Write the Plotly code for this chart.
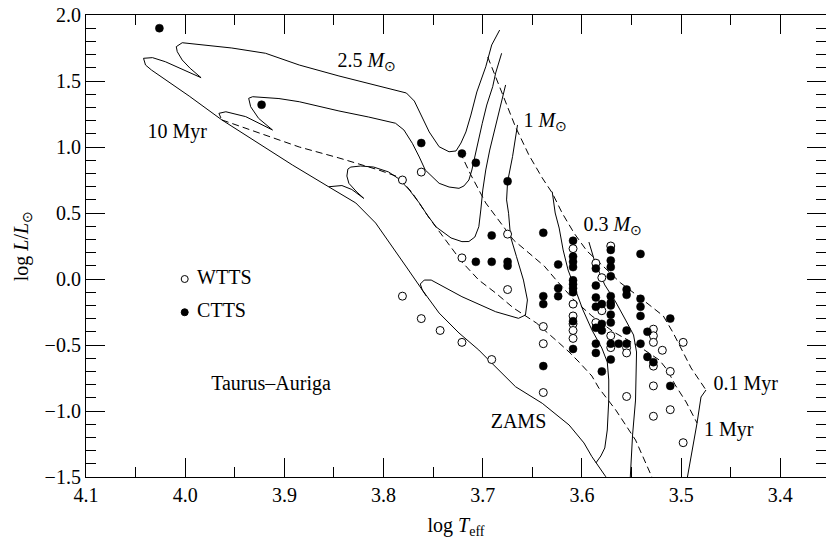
import plotly.graph_objects as go

FONT = "Liberation Serif, Times New Roman, serif"

# ---------------- evolutionary tracks (log Teff, log L/Lsun) ----------------
track_25_x = [3.683, 3.691, 3.697, 3.706, 3.712, 3.717, 3.722, 3.727, 3.734, 3.744, 3.754, 3.762, 3.769, 3.777,
              3.805, 3.845, 3.885, 3.919, 3.953, 3.986, 4.003, 4.009, 4.008, 4.003, 3.995, 3.984, 4.020, 4.033, 4.042]
track_25_y = [1.886, 1.773, 1.608, 1.417, 1.242, 1.114, 1.030, 0.970, 0.964, 1.002, 1.114, 1.242, 1.348, 1.409,
              1.462, 1.538, 1.621, 1.710, 1.750, 1.778, 1.790, 1.760, 1.722, 1.659, 1.596, 1.525, 1.646, 1.677, 1.672]

track_20_x = [3.681, 3.687, 3.690, 3.696, 3.7005, 3.704, 3.707, 3.711, 3.714, 3.719, 3.724, 3.734, 3.744, 3.751,
              3.758, 3.764, 3.771, 3.7795, 3.788, 3.815, 3.845, 3.885, 3.9055, 3.932, 3.936, 3.934, 3.926, 3.912,
              3.939, 3.959, 3.966, 3.964]
track_20_y = [1.710, 1.561, 1.457, 1.318, 1.180, 1.053, 0.952, 0.826, 0.750, 0.705, 0.687, 0.697, 0.725, 0.773,
              0.826, 0.924, 1.028, 1.129, 1.180, 1.227, 1.273, 1.343, 1.367, 1.381, 1.369, 1.305, 1.217, 1.129,
              1.230, 1.267, 1.255, 1.220]

track_15_x = [3.677, 3.682, 3.687, 3.693, 3.697, 3.700, 3.702, 3.704, 3.708, 3.714, 3.721, 3.732, 3.747, 3.756,
              3.764, 3.774, 3.7845, 3.795, 3.810, 3.823, 3.833, 3.836, 3.837, 3.835, 3.827, 3.820, 3.832, 3.842, 3.855]
track_15_y = [1.470, 1.318, 1.154, 0.977, 0.826, 0.674, 0.523, 0.396, 0.318, 0.284, 0.283, 0.311, 0.394, 0.485,
              0.576, 0.674, 0.758, 0.811, 0.848, 0.856, 0.848, 0.833, 0.780, 0.725, 0.659, 0.611, 0.678, 0.708, 0.699]

track_10_x = [3.665, 3.670, 3.675, 3.676, 3.674, 3.672, 3.666, 3.659, 3.655, 3.657, 3.664, 3.687, 3.721, 3.734,
              3.744, 3.752, 3.759, 3.763, 3.761, 3.757]
track_10_y = [1.167, 0.927, 0.737, 0.599, 0.498, 0.320, 0.169, -0.008, -0.159, -0.273, -0.298, -0.248, -0.134,
              -0.083, -0.038, -0.008, -0.008, -0.038, -0.083, -0.129]

track_05_x = [3.630, 3.627, 3.623, 3.619, 3.614, 3.606, 3.599, 3.590, 3.580, 3.5745, 3.573, 3.573, 3.5745, 3.577,
              3.581, 3.586]
track_05_y = [0.661, 0.500, 0.386, 0.220, 0.068, -0.098, -0.235, -0.386, -0.523, -0.629, -0.765, -0.917, -1.144,
              -1.280, -1.341, -1.394]

track_03_x = [3.593, 3.587, 3.577, 3.566, 3.556, 3.548, 3.545, 3.546, 3.549, 3.551, 3.552]
track_03_y = [0.280, 0.129, -0.045, -0.174, -0.311, -0.424, -0.553, -0.917, -1.182, -1.500, -1.600]

track_01_x = [3.475, 3.480, 3.484, 3.489, 3.494, 3.496]
track_01_y = [-0.841, -0.894, -1.091, -1.295, -1.500, -1.598]

zams_x = [4.042, 4.040, 4.034, 3.996, 3.963, 3.926, 3.892, 3.855, 3.828, 3.808, 3.793, 3.777, 3.761, 3.744,
          3.724, 3.704, 3.694, 3.667, 3.640, 3.613, 3.598, 3.590, 3.576, 3.571]
zams_y = [1.672, 1.621, 1.583, 1.386, 1.205, 1.030, 0.864, 0.697, 0.576, 0.424, 0.258, 0.091, -0.083, -0.258,
          -0.409, -0.538, -0.614, -0.816, -0.942, -1.106, -1.242, -1.346, -1.498, -1.560]

# ---------------- isochrones ----------------
iso_01_x = [3.695, 3.684, 3.675, 3.667, 3.6535, 3.640, 3.630, 3.620, 3.608, 3.595, 3.581, 3.561, 3.541, 3.518,
            3.508, 3.498, 3.490, 3.475]
iso_01_y = [1.682, 1.470, 1.295, 1.152, 0.939, 0.765, 0.652, 0.500, 0.348, 0.212, 0.114, -0.030, -0.144, -0.280,
            -0.409, -0.553, -0.674, -0.841]

iso_1_x = [3.723, 3.712, 3.697, 3.684, 3.669, 3.6535, 3.638, 3.626, 3.608, 3.590, 3.568, 3.543, 3.522, 3.514,
           3.506, 3.495, 3.484]
iso_1_y = [0.962, 0.788, 0.576, 0.447, 0.295, 0.197, 0.098, -0.008, -0.159, -0.280, -0.402, -0.508, -0.614,
           -0.689, -0.803, -0.932, -1.091]

iso_10_x = [3.963, 3.926, 3.885, 3.845, 3.805, 3.785, 3.771, 3.754, 3.737, 3.721, 3.704, 3.687, 3.669, 3.646,
            3.623, 3.613, 3.603, 3.590, 3.583, 3.566, 3.546, 3.5295, 3.522]
iso_10_y = [1.205, 1.106, 1.000, 0.917, 0.826, 0.773, 0.652, 0.462, 0.295, 0.129, -0.008, -0.106, -0.220, -0.333,
            -0.485, -0.553, -0.629, -0.735, -0.826, -0.992, -1.220, -1.500, -1.600]

# ---------------- stars ----------------
ctts_x = [4.026, 3.923, 3.762, 3.721, 3.707, 3.675, 3.691, 3.639, 3.609, 3.707, 3.691, 3.675, 3.675, 3.624,
          3.609, 3.609, 3.609, 3.624, 3.624, 3.639, 3.639, 3.609, 3.609, 3.609, 3.609, 3.609, 3.609, 3.639,
          3.586, 3.586, 3.586, 3.586, 3.580, 3.580, 3.586, 3.586, 3.586, 3.580, 3.571, 3.571, 3.571, 3.571,
          3.571, 3.571, 3.571, 3.571, 3.571, 3.571, 3.571, 3.580, 3.541, 3.555, 3.555, 3.541, 3.541, 3.541,
          3.541, 3.563, 3.555, 3.555, 3.534, 3.534, 3.528, 3.511, 3.511]
ctts_y = [1.90, 1.32, 1.03, 0.95, 0.88, 0.74, 0.33, 0.35, 0.29, 0.13, 0.13, 0.13, 0.10, 0.11,
          0.17, 0.13, 0.09, -0.07, -0.13, -0.13, -0.19, -0.01, -0.04, -0.07, -0.10, -0.32, -0.53, -0.66,
          0.08, -0.05, -0.14, -0.21, -0.19, -0.34, -0.37, -0.49, -0.56, -0.70, 0.22, 0.14, 0.09, 0.02,
          -0.13, -0.18, -0.20, -0.27, -0.33, -0.49, -0.61, -0.39, 0.19, -0.08, -0.12, -0.15, -0.21, -0.28,
          -0.49, -0.49, -0.49, -0.39, -0.40, -0.59, -0.63, -0.30, -0.81]

wtts_x = [3.762, 3.781, 3.675, 3.721, 3.675, 3.781, 3.762, 3.743, 3.721, 3.691, 3.639, 3.639, 3.639, 3.609,
          3.609, 3.609, 3.609, 3.609, 3.609, 3.586, 3.580, 3.586, 3.580, 3.571, 3.571, 3.571, 3.555, 3.555,
          3.555, 3.528, 3.528, 3.528, 3.519, 3.528, 3.498, 3.511, 3.528, 3.511, 3.528, 3.498]
wtts_y = [0.81, 0.75, 0.34, 0.16, -0.08, -0.13, -0.30, -0.39, -0.48, -0.61, -0.36, -0.49, -0.86, 0.23,
          -0.19, -0.28, -0.34, -0.39, -0.45, 0.12, 0.01, -0.33, -0.24, 0.25, -0.43, -0.52, -0.52, -0.56,
          -0.89, -0.38, -0.43, -0.48, -0.54, -0.66, -0.48, -0.70, -0.81, -0.99, -1.04, -1.24]

# ---------------- labels ----------------
label_text = ["2.5 <i>M</i><sub>⊙</sub>", "1 <i>M</i><sub>⊙</sub>", "0.3 <i>M</i><sub>⊙</sub>",
              "10 Myr", "0.1 Myr", "1 Myr", "ZAMS", "Taurus–Auriga"]
label_x = [3.817, 3.637, 3.569, 4.008, 3.435, 3.452, 3.664, 3.9135]
label_y = [1.644, 1.189, 0.402, 1.106, -0.803, -1.152, -1.091, -0.803]

legend_names = ["WTTS", "CTTS"]
legend_fill = ["white", "black"]
legend_marker_x = [4.0005, 4.0005]
legend_text_x = [3.988, 3.988]
legend_y = [0.0, -0.252]

fig = go.Figure()

solid = [(track_25_x, track_25_y), (track_20_x, track_20_y), (track_15_x, track_15_y),
         (track_10_x, track_10_y), (track_05_x, track_05_y), (track_03_x, track_03_y),
         (track_01_x, track_01_y), (zams_x, zams_y)]
for xs, ys in solid:
    fig.add_trace(go.Scatter(x=xs, y=ys, mode="lines", line=dict(color="black", width=1),
                             hoverinfo="skip", showlegend=False))

for xs, ys in [(iso_01_x, iso_01_y), (iso_1_x, iso_1_y), (iso_10_x, iso_10_y)]:
    fig.add_trace(go.Scatter(x=xs, y=ys, mode="lines",
                             line=dict(color="black", width=1, dash="7px,4px"),
                             hoverinfo="skip", showlegend=False))

fig.add_trace(go.Scatter(x=wtts_x, y=wtts_y, mode="markers", name="WTTS",
                         marker=dict(size=8, color="white", line=dict(color="black", width=1)),
                         showlegend=False))
fig.add_trace(go.Scatter(x=ctts_x, y=ctts_y, mode="markers", name="CTTS",
                         marker=dict(size=8, color="black", line=dict(color="black", width=0.5)),
                         showlegend=False))

# legend drawn inside the plot
fig.add_trace(go.Scatter(x=legend_marker_x, y=legend_y, mode="markers",
                         marker=dict(size=7, color=legend_fill, line=dict(color="black", width=1)),
                         hoverinfo="skip", showlegend=False))
fig.add_trace(go.Scatter(x=legend_text_x, y=legend_y, mode="text", text=legend_names,
                         textposition="middle right",
                         textfont=dict(family=FONT, size=20, color="black"),
                         hoverinfo="skip", showlegend=False))

fig.add_trace(go.Scatter(x=label_x, y=label_y, mode="text", text=label_text,
                         textposition="middle center",
                         textfont=dict(family=FONT, size=20, color="black"),
                         hoverinfo="skip", showlegend=False))

axis_common = dict(
    showline=True, linecolor="black", linewidth=1.2, mirror="allticks",
    ticks="inside", ticklen=19, tickwidth=1.1, tickcolor="black",
    showgrid=False, zeroline=False, tickformat=".1f",
    tickfont=dict(family=FONT, size=20, color="black"),
)

fig.update_xaxes(range=[4.1, 3.354], autorange=False, tick0=4.1, dtick=0.1,
                 minor=dict(ticks="inside", ticklen=10, dtick=0.05, tickcolor="black", tickwidth=1.1),
                 title=dict(text="log <i>T</i><sub>eff</sub>", font=dict(family=FONT, size=20, color="black"),
                            standoff=12),
                 **axis_common)
fig.update_yaxes(range=[-1.5, 2.0], autorange=False, tick0=0, dtick=0.5,
                 minor=dict(ticks="inside", ticklen=10, dtick=0.1, tickcolor="black", tickwidth=1.1),
                 title=dict(text="log <i>L</i>/<i>L</i><sub>⊙</sub>", font=dict(family=FONT, size=20, color="black"),
                            standoff=10),
                 **axis_common)

fig.update_layout(width=826, height=540, margin=dict(l=86, r=0, t=15, b=63),
                  paper_bgcolor="white", plot_bgcolor="white",
                  font=dict(family=FONT, size=20, color="black"))

fig.write_html("out.html")
